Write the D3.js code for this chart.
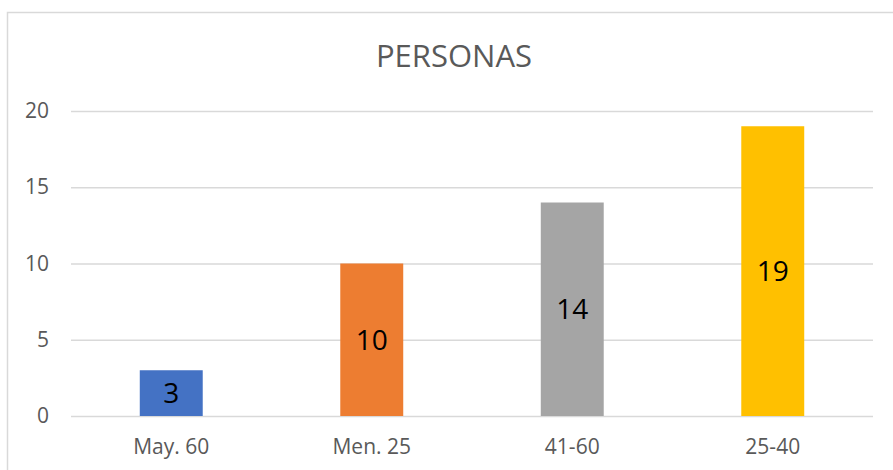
<!DOCTYPE html>
<html>
<head>
<meta charset="utf-8">
<script src="https://cdn.jsdelivr.net/npm/d3@7"></script>
<style>
  body { margin: 0; background: #fff; }
  text { font-family: "Open Sans", "Noto Sans", sans-serif; }
</style>
</head>
<body>
<script>
// Chart data.
var categories = ['May. 60', 'Men. 25', '41-60', '25-40'],
    values = [3, 10, 14, 19],
    colors = ['#4472C4', '#ED7D31', '#A5A5A5', '#FFC000'],
    yTicks = [0, 5, 10, 15, 20];

var width = 893,
    height = 470;

var svg = d3.select('body')
  .append('svg')
  .attr('width', width)
  .attr('height', height);

// Chart frame, only its left and top edges are inside the window.
svg.append('rect')
  .attr('x', 7.5)
  .attr('y', 12.5)
  .attr('width', 920)
  .attr('height', 500)
  .attr('fill', 'none')
  .attr('stroke', '#d9d9d9')
  .attr('stroke-width', 1.5);

var x = d3.scaleBand()
  .domain(categories)
  .range([71, 873])
  .paddingInner(0.686)
  .paddingOuter(0.343);

var y = d3.scaleLinear()
  .domain([0, 20])
  .range([416, 111]);

// Gridlines and y labels.
var yAxis = d3.axisLeft(y)
  .tickValues(yTicks)
  .tickSize(-(873 - 71))
  .tickPadding(22);

var gy = svg.append('g')
  .attr('transform', 'translate(71,0)')
  .call(yAxis);

gy.select('.domain').remove();
gy.selectAll('.tick line')
  .attr('stroke', '#d9d9d9')
  .attr('stroke-width', 1.5);
gy.selectAll('.tick text')
  .attr('fill', '#595959')
  .style('font-size', '21px');

// Category labels.
var xAxis = d3.axisBottom(x)
  .tickSize(0)
  .tickPadding(23);

var gx = svg.append('g')
  .attr('transform', 'translate(0,416)')
  .call(xAxis);

gx.select('.domain').remove();
gx.selectAll('.tick text')
  .attr('fill', '#595959')
  .style('font-size', '21px');

// Bars.
svg.selectAll('rect.bar')
  .data(values)
  .enter().append('rect')
  .attr('class', 'bar')
  .attr('x', function(d, i) { return x(categories[i]); })
  .attr('y', function(d) { return y(d); })
  .attr('width', x.bandwidth())
  .attr('height', function(d) { return y(0) - y(d); })
  .attr('fill', function(d, i) { return colors[i]; });

// Value labels, centred in each bar.
svg.selectAll('text.value')
  .data(values)
  .enter().append('text')
  .attr('class', 'value')
  .attr('x', function(d, i) { return x(categories[i]) + x.bandwidth() / 2; })
  .attr('y', function(d) { return (y(d) + y(0)) / 2; })
  .attr('text-anchor', 'middle')
  .attr('dy', '0.36em')
  .attr('fill', '#000')
  .style('font-size', '28px')
  .text(function(d) { return d; });

// Title.
svg.append('text')
  .attr('x', 454)
  .attr('y', 56)
  .attr('dy', '0.36em')
  .attr('text-anchor', 'middle')
  .attr('fill', '#595959')
  .style('font-size', '31px')
  .text('PERSONAS');
</script>
</body>
</html>
